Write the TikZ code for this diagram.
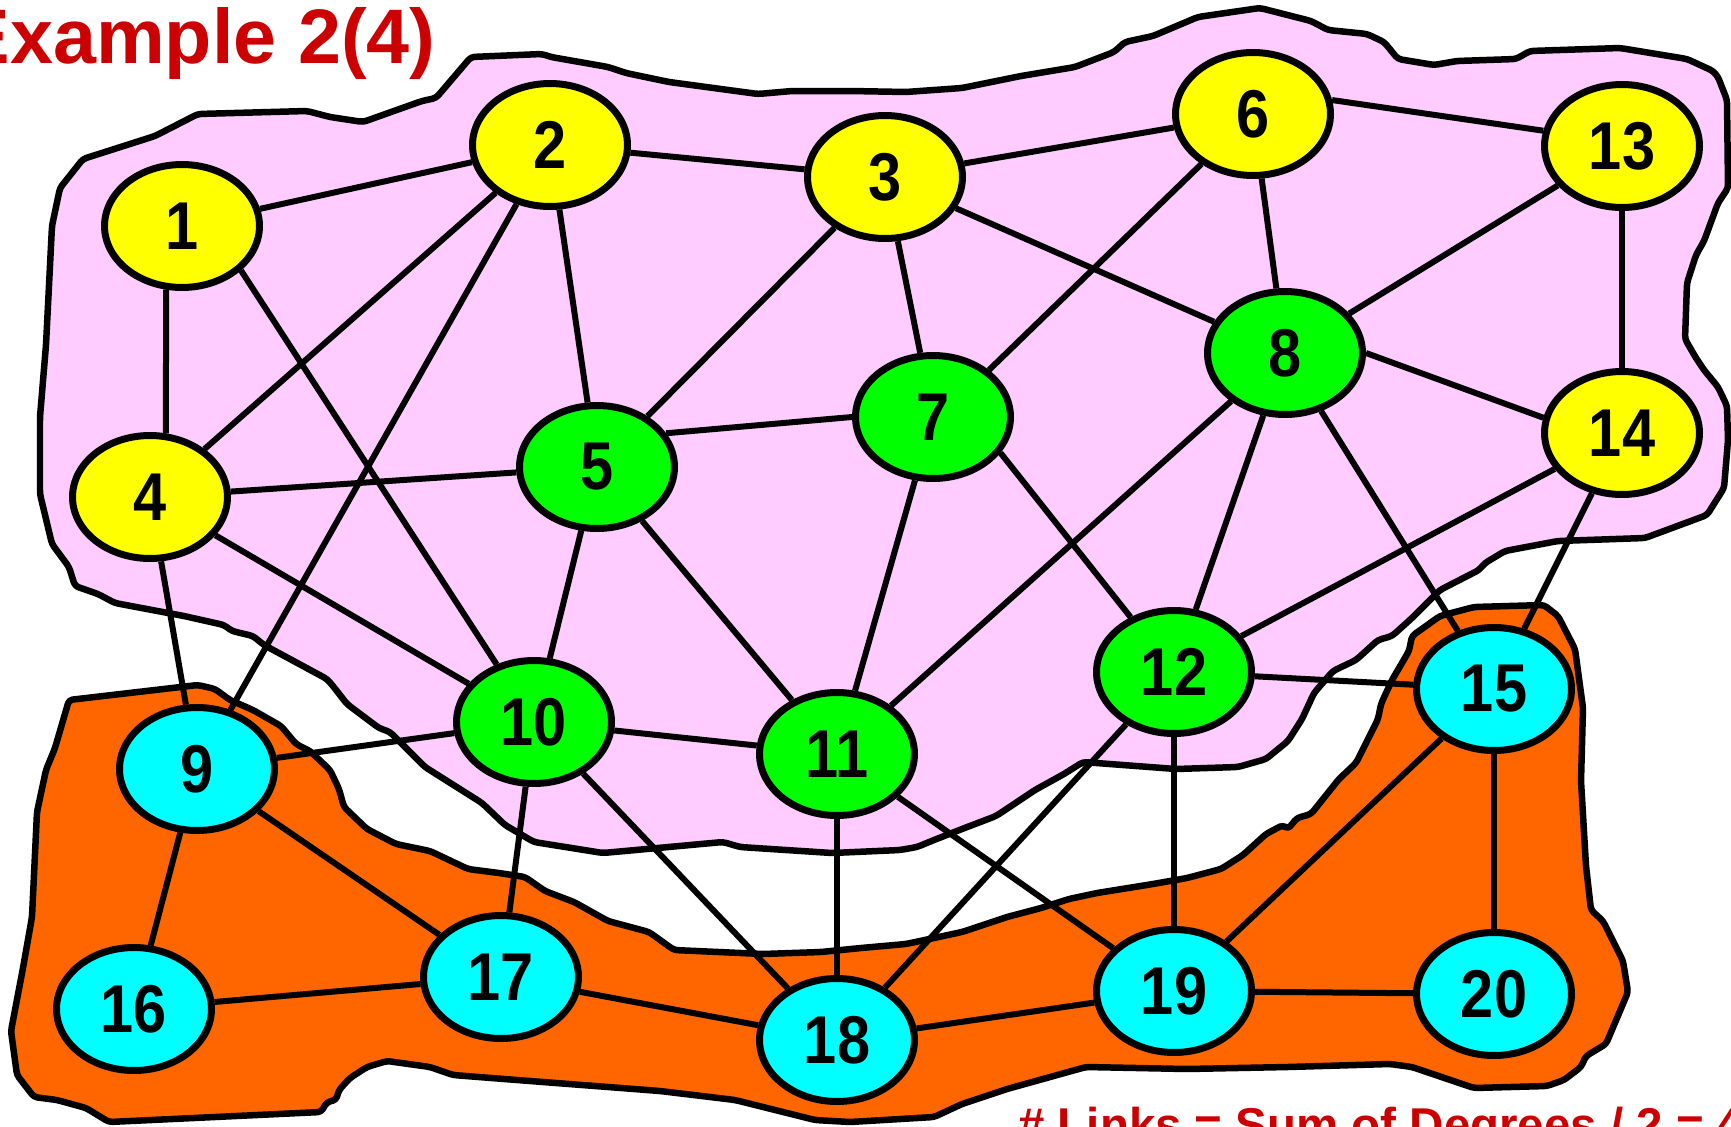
\documentclass[tikz,border=0pt]{standalone}
\usepackage{fontspec}
\setmainfont{Liberation Sans}
\newfontfamily\nodefont{Liberation Sans Bold}[FakeStretch=0.88]
\newfontfamily\titlefont{Liberation Sans Bold}
\usetikzlibrary{shapes.geometric}
\definecolor{blobpink}{HTML}{FFCCFF}
\definecolor{bloborange}{HTML}{FF6600}
\definecolor{titlered}{HTML}{CC0000}
\definecolor{nyellow}{HTML}{FFFF00}
\definecolor{ngreen}{HTML}{00FF00}
\definecolor{ncyan}{HTML}{00FFFF}
\begin{document}
\begin{tikzpicture}[x=0.02cm,y=-0.02cm,
  vtx/.style={ellipse,draw=black,line width=0.14cm,minimum width=3.1cm,minimum height=2.46cm,inner sep=0pt,
    font=\nodefont\fontsize{38.5}{38.5}\selectfont},
  yv/.style={vtx,fill=nyellow},
  gv/.style={vtx,fill=ngreen},
  cv/.style={vtx,fill=ncyan},
  link/.style={draw=black,line width=0.12cm},
  blob/.style={draw=black,line width=0.13cm,line join=round,rounded corners=2pt},
  redtext/.style={text=titlered,inner sep=0pt}]
\useasboundingbox (0,0) rectangle (1731,1126);
\fill[white] (0,0) rectangle (1731,1126);

% pink region
\filldraw[blob,fill=blobpink]
 (83,159) -- (155,136) -- (198,114) -- (307,111) -- (330,117) -- (363,122) -- (422,101) -- (436,98)
 -- (471,57) -- (542,54) -- (551,57) -- (608,67) -- (626,73) -- (669,82) -- (758,94) -- (792,91)
 -- (850,91) -- (906,92) -- (962,88) -- (1021,76) -- (1075,67) -- (1114,52) -- (1125,42) -- (1153,36)
 -- (1198,17) -- (1260,8) -- (1311,21) -- (1328,30) -- (1367,34) -- (1384,42) -- (1398,59) -- (1434,65)
 -- (1457,61) -- (1516,59) -- (1530,51) -- (1620,48) -- (1687,59) -- (1713,71) -- (1718,77) -- (1727,100)
 -- (1728,188) -- (1718,203) -- (1704,241) -- (1696,255) -- (1687,283) -- (1685,339) -- (1696,358)
 -- (1704,370) -- (1718,387) -- (1727,406) -- (1728,440) -- (1724,488) -- (1707,515) -- (1645,538)
 -- (1558,541) -- (1505,551) -- (1485,563) -- (1479,570) -- (1440,590) -- (1412,618) -- (1392,636)
 -- (1378,640) -- (1356,660) -- (1333,671) -- (1314,693) -- (1302,719) -- (1288,741) -- (1266,759)
 -- (1238,767) -- (1176,769) -- (1083,762) -- (1064,774) -- (1035,790) -- (996,816) -- (962,829)
 -- (934,840) -- (917,847) -- (900,850) -- (832,853) -- (740,847) -- (723,842) -- (603,853) -- (534,842)
 -- (505,825) -- (482,803) -- (425,767) -- (390,732) -- (379,728) -- (347,704) -- (333,686) -- (327,679)
 -- (264,645) -- (253,636) -- (232,631) -- (224,625) -- (184,616) -- (115,603) -- (98,594) -- (75,586)
 -- (69,567) -- (52,544) -- (40,494) -- (40,417) -- (46,345) -- (52,226) -- (60,188) -- cycle;

% orange region
\filldraw[blob,fill=bloborange]
 (69,700) -- (198,685) -- (215,689) -- (230,700) -- (253,710) -- (281,726) -- (296,744) -- (310,751)
 -- (330,770) -- (339,789) -- (344,807) -- (367,829) -- (396,844) -- (430,851) -- (468,869) -- (499,873)
 -- (525,877) -- (545,891) -- (574,902) -- (608,921) -- (649,932) -- (674,950) -- (763,954) -- (821,952)
 -- (861,948) -- (906,944) -- (962,932) -- (1007,917) -- (1041,908) -- (1069,899) -- (1097,893)
 -- (1153,884) -- (1187,878) -- (1221,869) -- (1243,855) -- (1266,834) -- (1283,825) -- (1288,829)
 -- (1297,818) -- (1311,814) -- (1339,779) -- (1356,763) -- (1367,741) -- (1378,719) -- (1381,704)
 -- (1392,680) -- (1409,651) -- (1412,636) -- (1440,616) -- (1474,607) -- (1544,605) -- (1558,616)
 -- (1575,649) -- (1583,708) -- (1581,781) -- (1586,866) -- (1591,910) -- (1603,921) -- (1623,961)
 -- (1628,992) -- (1606,1044) -- (1586,1056) -- (1581,1067) -- (1564,1080) -- (1547,1086) -- (1474,1088)
 -- (1412,1067) -- (1390,1064) -- (1288,1067) -- (1187,1069) -- (1086,1067) -- (1007,1089) -- (962,1104)
 -- (934,1117) -- (850,1122) -- (815,1120) -- (735,1100) -- (660,1091) -- (517,1080) -- (453,1075)
 -- (430,1067) -- (387,1061) -- (367,1067) -- (350,1078) -- (339,1090) -- (336,1100) -- (327,1102)
 -- (321,1112) -- (109,1122) -- (86,1108) -- (57,1100) -- (34,1097) -- (17,1075) -- (11,1031) -- (23,968)
 -- (32,917) -- (37,812) -- (46,770) -- (55,748) -- cycle;

% texts
\node[redtext,anchor=base east,font=\titlefont\fontsize{44}{44}\selectfont] (title) at (436,63) {Example 2(4)};
\node[redtext,anchor=base west,font=\titlefont\fontsize{27}{27}\selectfont] (links) at (1018,1141) {\# Links = Sum of Degrees / 2 = 46};

% vertices
\node[yv] (n1) at (182,226) {1};
\node[yv] (n2) at (550,145) {2};
\node[yv] (n3) at (885,177) {3};
\node[yv] (n4) at (150,497) {4};
\node[gv] (n5) at (597,467) {5};
\node[yv] (n6) at (1253,114) {6};
\node[gv] (n7) at (933,417) {7};
\node[gv] (n8) at (1285,353) {8};
\node[cv] (n9) at (197,769) {9};
\node[gv] (n10) at (534,722) {10};
\node[gv] (n11) at (837,754) {11};
\node[gv] (n12) at (1174,672) {12};
\node[yv] (n13) at (1622,146) {13};
\node[yv] (n14) at (1622,433) {14};
\node[cv] (n15) at (1494,689) {15};
\node[cv] (n16) at (134,1009) {16};
\node[cv] (n17) at (501,977) {17};
\node[cv] (n18) at (837,1040) {18};
\node[cv] (n19) at (1174,991) {19};
\node[cv] (n20) at (1494,994) {20};

% links
\draw[link] (n1) -- (n2);
\draw[link] (n1.-104) -- (n4.76);
\draw[link] (n1.-37) -- (n10);
\draw[link] (n2) -- (n3);
\draw[link] (n2) -- (n4);
\draw[link] (n2) -- (n5);
\draw[link] (n2) -- (n9);
\draw[link] (n3) -- (n5);
\draw[link] (n3) -- (n6);
\draw[link] (n3) -- (n7);
\draw[link] (n3) -- (n8);
\draw[link] (n4) -- (n5);
\draw[link] (n4) -- (n9);
\draw[link] (n4) -- (n10);
\draw[link] (n5.26) -- (n7.180);
\draw[link] (n5) -- (n10);
\draw[link] (n5) -- (n11);
\draw[link] (n6) -- (n7.40);
\draw[link] (n6) -- (n8);
\draw[link] (n6.10) -- (n13.169);
\draw[link] (n7) -- (n11);
\draw[link] (n7.-28) -- (n12);
\draw[link] (n8) -- (n11);
\draw[link] (n8) -- (n12);
\draw[link] (n8) -- (n13);
\draw[link] (n8.0) -- (n14.169);
\draw[link] (n8) -- (n15);
\draw[link] (n9) -- (n10);
\draw[link] (n9) -- (n16);
\draw[link] (n9) -- (n17);
\draw[link] (n10) -- (n11);
\draw[link] (n10) -- (n17);
\draw[link] (n10) -- (n18);
\draw[link] (n11) -- (n18);
\draw[link] (n11) -- (n19);
\draw[link] (n12) -- (n14);
\draw[link] (n12) -- (n15);
\draw[link] (n12) -- (n18);
\draw[link] (n12) -- (n19);
\draw[link] (n13) -- (n14);
\draw[link] (n14) -- (n15);
\draw[link] (n15) -- (n19);
\draw[link] (n15) -- (n20);
\draw[link] (n16) -- (n17);
\draw[link] (n17) -- (n18);
\draw[link] (n18) -- (n19);
\draw[link] (n19) -- (n20);
\end{tikzpicture}
\end{document}
